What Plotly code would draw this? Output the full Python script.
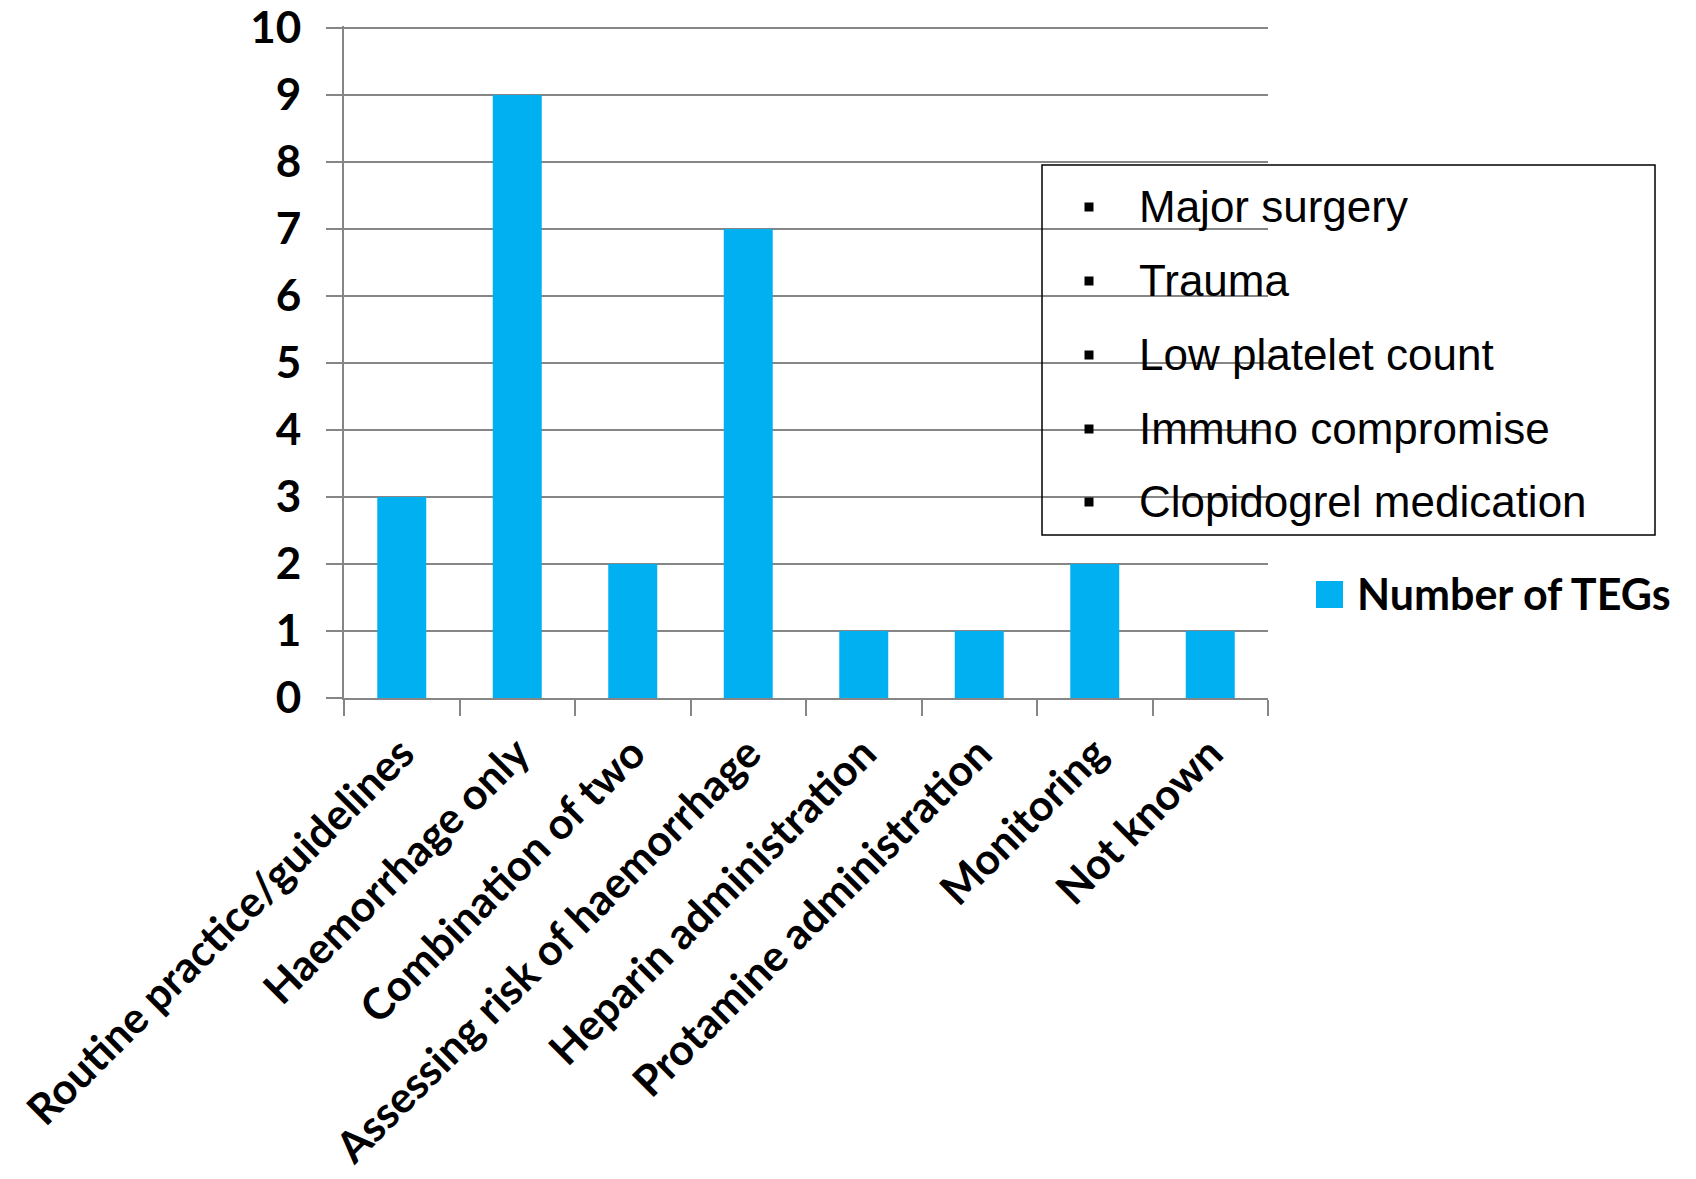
import plotly.graph_objects as go

# Indications for TEG use and how many TEGs each accounted for
categories = [
    "Routine practice/guidelines",
    "Haemorrhage only",
    "Combination of two",
    "Assessing risk of haemorrhage",
    "Heparin administration",
    "Protamine administration",
    "Monitoring",
    "Not known",
]
teg_counts = [3, 9, 2, 7, 1, 1, 2, 1]
series_name = "Number of TEGs"
y_ticks = list(range(0, 11))

# Conditions listed in the inset box
indications = [
    "Major surgery",
    "Trauma",
    "Low platelet count",
    "Immuno compromise",
    "Clopidogrel medication",
]

W, H = 1696, 1179
L, R, T, B = 344, 428, 26, 481
PW, PH = W - L - R, H - T - B
BAR_BLUE = "#00B0F0"
GRID = "#868686"


def px_x(x):
    return (x - L) / PW


def px_y(y):
    return (H - B - y) / PH


fig = go.Figure()
fig.add_trace(go.Bar(
    x=categories,
    y=teg_counts,
    name=series_name,
    marker=dict(color=BAR_BLUE, line=dict(width=0)),
    showlegend=False,
))

shapes = []
annotations = []

# Inset box listing the indications
shapes.append(dict(
    type="rect", xref="paper", yref="paper",
    x0=px_x(1042), x1=px_x(1655), y0=px_y(535), y1=px_y(165),
    line=dict(color="black", width=1.5), fillcolor="rgba(0,0,0,0)",
))
row_centres = [206, 280, 354, 428, 501]
for label, cy in zip(indications, row_centres):
    shapes.append(dict(
        type="rect", xref="paper", yref="paper",
        xsizemode="pixel", ysizemode="pixel",
        xanchor=px_x(1089), yanchor=px_y(cy + 1),
        x0=-4.5, x1=4.5, y0=-4.5, y1=4.5,
        fillcolor="black", line=dict(width=0),
    ))
    annotations.append(dict(
        text=label, xref="paper", yref="paper",
        x=px_x(1137), y=px_y(cy), xanchor="left", yanchor="middle",
        showarrow=False,
        font=dict(family="Liberation Sans, Arial, sans-serif", size=44, color="black"),
    ))

# Series key
shapes.append(dict(
    type="rect", xref="paper", yref="paper",
    xsizemode="pixel", ysizemode="pixel",
    xanchor=px_x(1329.5), yanchor=px_y(594.5),
    x0=-13.5, x1=13.5, y0=-13.5, y1=13.5,
    fillcolor=BAR_BLUE, line=dict(width=0),
))
annotations.append(dict(
    text=series_name, xref="paper", yref="paper",
    x=px_x(1355), y=px_y(593), xanchor="left", yanchor="middle",
    showarrow=False,
    font=dict(family="Lato, sans-serif", size=43, color="black", weight="bold"),
))

x_tick_font = dict(family="Lato, sans-serif", size=43, color="black", weight="bold")
y_tick_font = dict(family="Lato, sans-serif", size=44, color="black", weight="bold")

fig.update_layout(
    width=W, height=H,
    margin=dict(l=L, r=R, t=T, b=B, pad=0),
    paper_bgcolor="white", plot_bgcolor="white",
    bargap=0.576,
    shapes=shapes,
    annotations=annotations,
    showlegend=False,
)
fig.update_xaxes(
    type="category",
    automargin=False,
    tickson="boundaries",
    ticks="outside", ticklen=16, tickwidth=2, tickcolor=GRID,
    showline=True, linecolor=GRID, linewidth=2,
    showgrid=False,
    tickangle=-45,
    ticklabelstandoff=11,
    tickfont=x_tick_font,
)
fig.update_yaxes(
    automargin=False,
    range=[0, 10.03],
    tickvals=y_ticks,
    ticks="outside", ticklen=16, tickwidth=2, tickcolor=GRID,
    showline=True, linecolor=GRID, linewidth=2,
    showgrid=True, gridcolor=GRID, gridwidth=2,
    zeroline=False,
    ticklabelstandoff=16,
    tickfont=y_tick_font,
)

fig.write_html("out.html")
